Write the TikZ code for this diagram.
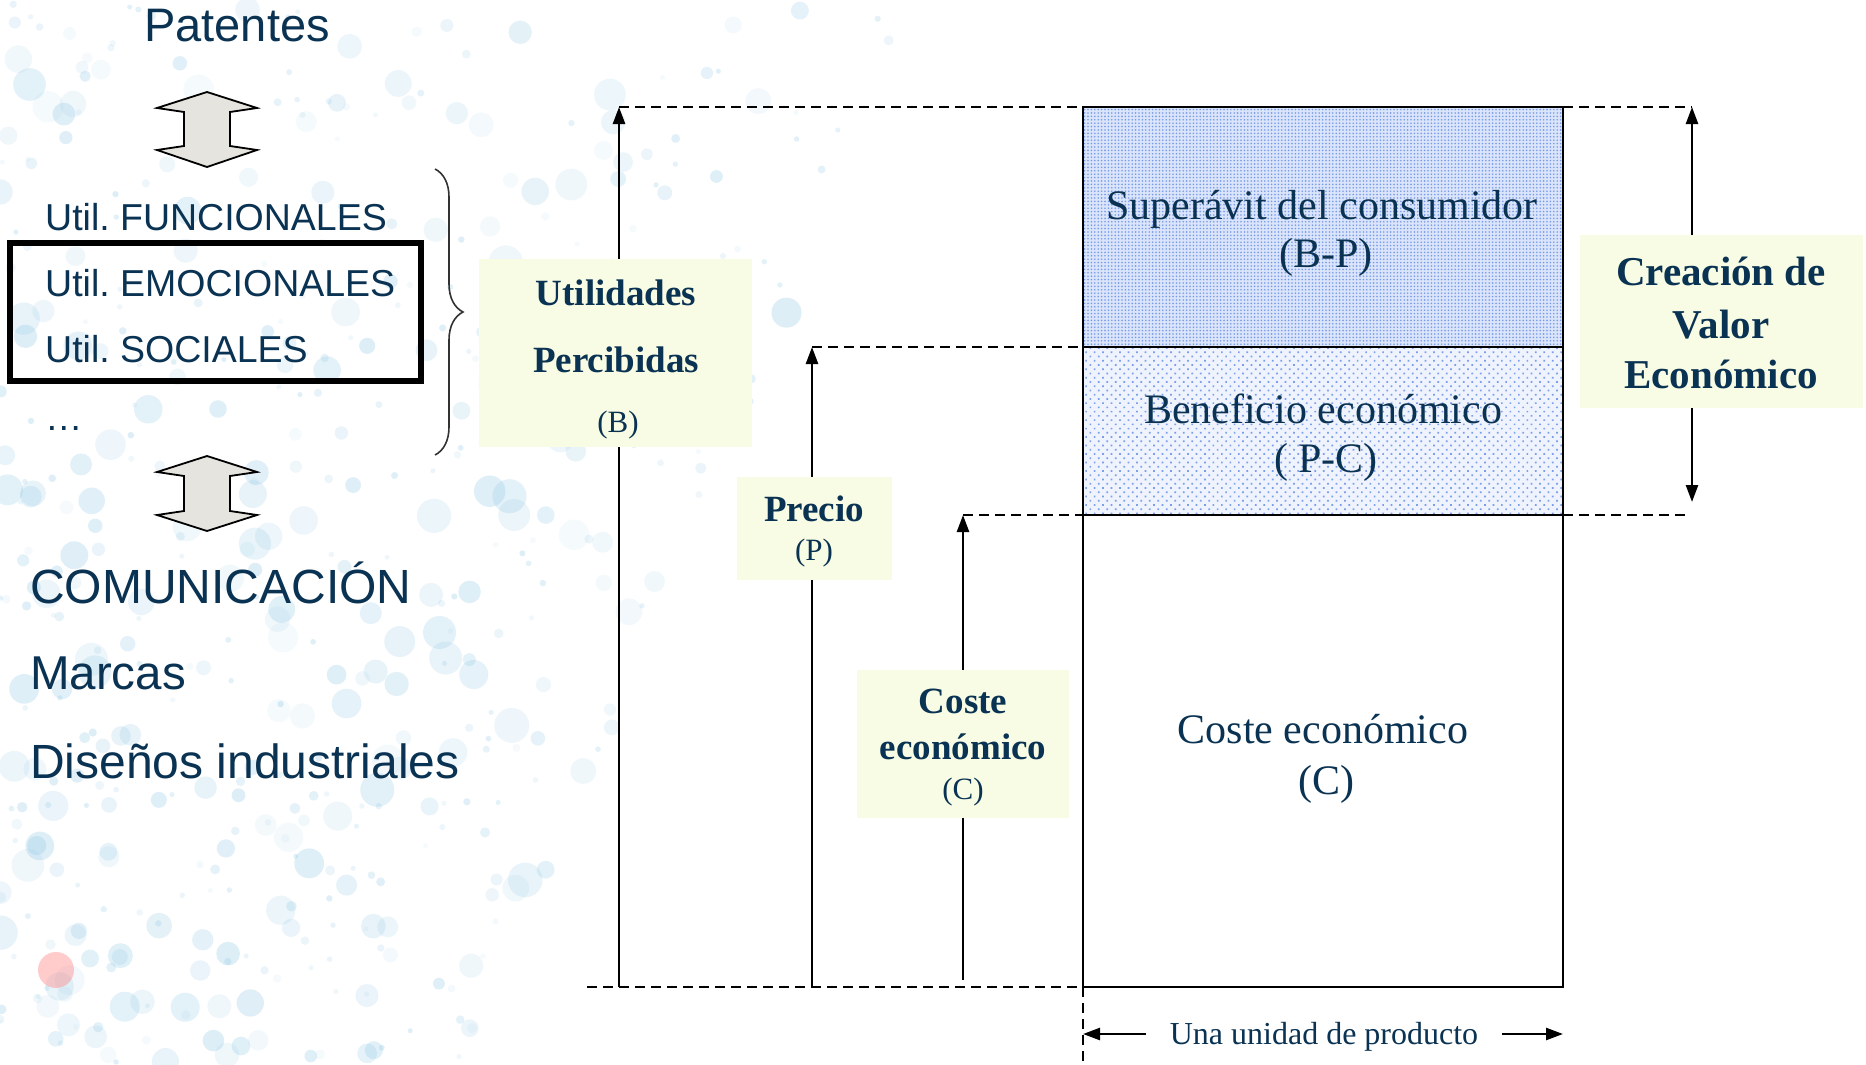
\documentclass[tikz,border=0pt]{standalone}
\usepackage{fontspec}
\setmainfont{Liberation Serif}
\newfontfamily\arialf{Liberation Sans}
\usetikzlibrary{arrows.meta,decorations.pathreplacing,patterns.meta}
\definecolor{navy}{RGB}{10,50,82}
\definecolor{lblyel}{RGB}{248,252,228}
\definecolor{arrgray}{RGB}{230,228,222}
\definecolor{bubble}{RGB}{140,198,228}
\definecolor{topbg}{RGB}{218,228,250}
\definecolor{topdot}{RGB}{120,155,232}
\definecolor{midbg}{RGB}{238,243,253}
\definecolor{middot}{RGB}{125,158,235}
\definecolor{bracecol}{RGB}{50,50,50}
\frenchspacing
\begin{document}
\begin{tikzpicture}[x=1pt,y=-1pt,
  sanstxt/.style={font=\arialf\fontsize{#1}{#1}\selectfont, text=navy, inner sep=0pt, anchor=base west},
  sertxt/.style={font=\fontsize{#1}{#1}\selectfont, text=navy, inner sep=0pt, anchor=base},
  boldtxt/.style={font=\bfseries\fontsize{#1}{#1}\selectfont, text=navy, inner sep=0pt, anchor=base},
  labelbox/.style={fill=lblyel, inner sep=0pt, outer sep=0pt},
  region/.style={draw, line width=2pt, inner sep=0pt, outer sep=0pt, minimum width=480pt},
  arr/.style={line width=2.5pt, -{Triangle[length=17pt,width=12pt]}},
  dblarr/.style={line width=2.5pt, {Triangle[length=17pt,width=12pt]}-{Triangle[length=17pt,width=12pt]}},
  guide/.style={line width=2.2pt, dash pattern=on 10pt off 6pt},
  blockarr/.style={fill=arrgray, draw=black, line width=1.8pt, line join=miter},
]
\useasboundingbox (0,0) rectangle (1866,1065);
\fill[white] (0,0) rectangle (1866,1065);

% background bubbles
\pgfmathsetseed{4711}
\foreach \i in {1,...,480}{
  \pgfmathsetmacro{\fy}{rnd}
  \pgfmathsetmacro{\by}{1065*\fy}
  \pgfmathsetmacro{\bx}{(920-450*\fy)*pow(rnd,1.3)}
  \pgfmathsetmacro{\br}{2.5+15*pow(rnd,2.2)}
  \pgfmathsetmacro{\bo}{0.07+0.22*rnd}
  \fill[bubble, opacity=\bo] (\bx,\by) circle[radius=\br];
}
\fill[red!45, opacity=0.45] (56,970) circle[radius=18];

% left column
\node[sanstxt=47] (pat) at (144,42) {Patentes};
\draw[blockarr] (207,92) -- (257,108) -- (230,112) -- (230,146) -- (257,150) -- (207,167) -- (157,150) -- (184,146) -- (184,112) -- (157,108) -- cycle;
\node[sanstxt=37.5] (fun) at (45,230) {Util. FUNCIONALES};
\node[sanstxt=37.5] (emo) at (45,296) {Util. EMOCIONALES};
\node[sanstxt=37.5] (soc) at (45,362) {Util. SOCIALES};
\node[sanstxt=37.5] (dots) at (45,430) {…};
\node[draw, line width=5.5pt, inner sep=0pt, minimum width=411pt, minimum height=138pt] (embox) at (215.5,312) {};
\draw[blockarr] (207,456) -- (257,472) -- (230,476) -- (230,511) -- (257,515) -- (207,531) -- (157,515) -- (184,511) -- (184,476) -- (157,472) -- cycle;
\node[sanstxt=48] (com) at (30,603) {COMUNICACIÓN};
\node[sanstxt=47.5] (mar) at (30,689) {Marcas};
\node[sanstxt=48] (dis) at (30,778) {Diseños industriales};
\coordinate (brtop) at (435,169);
\coordinate (brbot) at (435,455);
\draw[bracecol, line width=1.6pt, decorate, decoration={brace, amplitude=28pt}] (brtop) -- (brbot);

% main column
\node[region, minimum height=240pt, preaction={fill=topbg}, pattern={Dots[radius=0.9pt, distance=3.4pt]}, pattern color=topdot] (sup) at (1323,227) {};
\node[region, minimum height=168pt, preaction={fill=midbg}, pattern={Dots[radius=1.2pt, distance=6pt, angle=45]}, pattern color=middot] (ben) at (1323,431) {};
\node[region, minimum height=472pt, fill=white] (cost) at (1323,751) {};

% guide points
\coordinate (btop) at (619,107);
\coordinate (bbot) at (619,987);
\coordinate (ptop) at (812,347);
\coordinate (pbot) at (812,987);
\coordinate (ctop) at (963,515);
\coordinate (cbot) at (963,980);
\coordinate (rtop) at (1692,107);
\coordinate (rbot) at (1692,502);
\coordinate (rcend) at (1687,515);
\coordinate (gleft) at (587,987);
\coordinate (vbot) at (1083,1065);
\coordinate (ul) at (1083,1034);
\coordinate (ur) at (1563,1034);

\draw[guide] (btop) -- (sup.north west);
\draw[guide] (sup.north east) -- (rtop);
\draw[guide] (ptop) -- (ben.north west);
\draw[guide] (ctop) -- (cost.north west);
\draw[guide] (cost.north east) -- (rcend);
\draw[guide] (gleft) -- (cost.south west);
\draw[guide] (cost.south west) -- (vbot);

\draw[arr] (bbot) -- (btop);
\draw[arr] (pbot) -- (ptop);
\draw[arr] (cbot) -- (ctop);
\draw[dblarr] (rtop) -- (rbot);

% label boxes
\node[labelbox, minimum width=273pt, minimum height=188pt] (ubox) at (615.5,353) {};
\node[boldtxt=37] (ut1) at (616,305) {Utilidades};
\node[boldtxt=37] (ut2) at (616,372) {Percibidas};
\node[sertxt=31] (ut3) at (618,432) {(B)};

\node[labelbox, minimum width=155pt, minimum height=103pt] (pbox) at (814,528) {};
\node[boldtxt=37] (pr1) at (814,521) {Precio};
\node[sertxt=31] (pr2) at (814,560) {(P)};

\node[labelbox, minimum width=212pt, minimum height=148pt] (cbox) at (963,744) {};
\node[boldtxt=37] (co1) at (963,713) {Coste};
\node[boldtxt=37] (co2) at (963,759) {económico};
\node[sertxt=31] (co3) at (963,799) {(C)};

\node[labelbox, minimum width=283pt, minimum height=173pt] (vbox) at (1721.5,321.5) {};
\node[boldtxt=41] (va1) at (1721,285) {Creación de};
\node[boldtxt=41] (va2) at (1721,338) {Valor};
\node[boldtxt=41] (va3) at (1721,388) {Económico};

% region texts
\node[sertxt=42] (su1) at (1322,219) {Superávit del consumidor};
\node[sertxt=42] (su2) at (1326,267) {(B-P)};
\node[sertxt=42] (be1) at (1323,423) {Beneficio económico};
\node[sertxt=42] (be2) at (1326,472) {( P-C)};
\node[sertxt=42] (ce1) at (1323,743) {Coste económico};
\node[sertxt=42] (ce2) at (1326,794) {(C)};

% unit width
\node[sertxt=32, inner xsep=24pt] (una) at (1324,1044) {Una unidad de producto};
\draw[arr] (una.west |- ul) -- (ul);
\draw[arr] (una.east |- ur) -- (ur);
\end{tikzpicture}
\end{document}
